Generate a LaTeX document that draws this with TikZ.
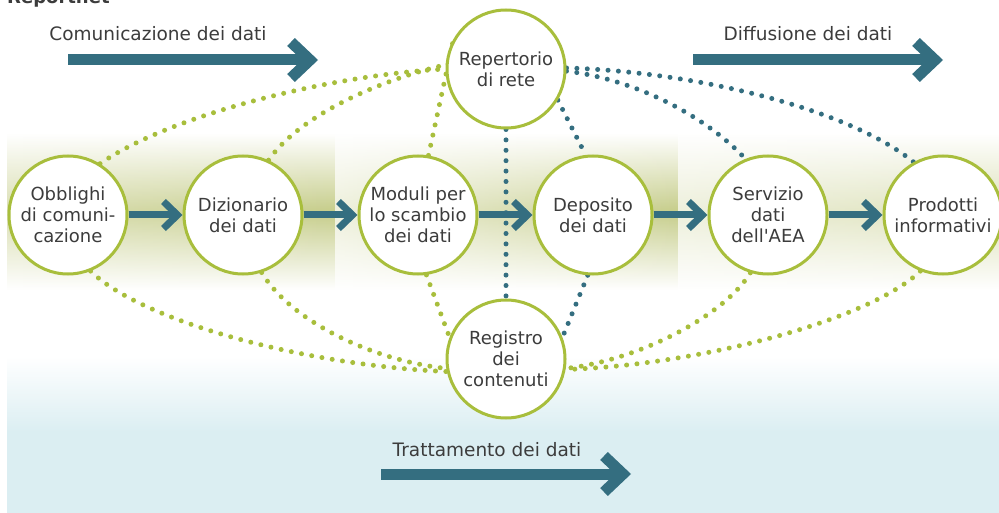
\documentclass[tikz,border=0pt]{standalone}
\usepackage{fontspec}
\setmainfont{DejaVu Sans}[Ligatures=TeXOff]
\usetikzlibrary{arrows.meta,fadings}
\definecolor{ring}{HTML}{A8BE3C}
\definecolor{petrol}{HTML}{346E80}
\definecolor{txt}{HTML}{3C3C3C}
\definecolor{olive}{HTML}{C6CD8A}
\definecolor{sky}{HTML}{DBEEF2}
\pgfdeclarelayer{bg}
\pgfdeclarelayer{mid}
\pgfsetlayers{bg,mid,main}
\begin{document}
\begin{tikzpicture}[x=1pt,y=-1pt,
  station/.style={circle,draw=ring,line width=3pt,fill=white,minimum size=118pt,inner sep=0pt,align=center,text=txt,font=\fontsize{18}{21}\selectfont},
  flow/.style={draw=petrol,line width=7pt,-{Straight Barb[length=14pt,width=27pt,sharp]}},
  gdots/.style={draw=ring,line width=5pt,line cap=round,dash pattern=on 0pt off 10.4pt},
  bdots/.style={gdots,draw=petrol},
  bigarrow/.style={draw=petrol,line width=11pt,-{Straight Barb[length=19pt,width=36pt,sharp]}},
  lbl/.style={text=txt,font=\fontsize{18.5}{22}\selectfont,anchor=base,inner sep=0pt}]
\useasboundingbox (0,0) rectangle (999,513);

\begin{pgfonlayer}{bg}
\fill[white] (0,0) rectangle (999,513);
\shade[top color=white,bottom color=white,middle color=olive] (7,133) rectangle (335,290);
\fill[white,fill opacity=0.35,path fading=east] (7,133) rectangle (335,290);
\shade[top color=white,bottom color=white,middle color=olive] (335,133) rectangle (678,290);
\fill[white,fill opacity=0.7,path fading=east] (335,133) rectangle (678,290);
\shade[top color=white,bottom color=white,middle color=olive!60] (678,133) rectangle (999,290);
\fill[white,fill opacity=0.5,path fading=east] (678,133) rectangle (999,290);
\shade[top color=white,bottom color=sky] (7,356) rectangle (999,432);
\fill[sky] (7,431.5) rectangle (999,513);
\end{pgfonlayer}

\node[anchor=base west,inner sep=0pt,font=\bfseries\fontsize{18}{20}\selectfont,text=txt] (title) at (7,4) {Reportnet};

\node[lbl] (lcom) at (158,41) {Comunicazione dei dati};
\node[lbl] (ldif) at (808,41) {Diffusione dei dati};
\node[lbl] (ltra) at (487,456) {Trattamento dei dati};

\coordinate (a1) at (68,60);  \coordinate (a2) at (318,60);
\coordinate (b1) at (693,60); \coordinate (b2) at (943,60);
\coordinate (t1) at (381,474); \coordinate (t2) at (631,474);
\draw[bigarrow] (a1) -- (a2);
\draw[bigarrow] (b1) -- (b2);
\draw[bigarrow] (t1) -- (t2);

\node[station] (obb) at (68,215) {Obblighi\\di comuni-\\cazione};
\node[station] (diz) at (243,215) {Dizionario\\dei dati};
\node[station] (mod) at (418,215) {Moduli per\\lo scambio\\dei dati};
\node[station] (dep) at (593,215) {Deposito\\dei dati};
\node[station] (ser) at (768,215) {Servizio\\dati\\dell'AEA};
\node[station] (pro) at (943,215) {Prodotti\\informativi};
\node[station] (rep) at (506,69) {Repertorio\\di rete};
\node[station] (reg) at (506,359) {Registro\\dei\\contenuti};

\begin{pgfonlayer}{mid}
\draw[gdots] (obb.58) .. controls (170,115) and (330,75) .. (rep.180);
\draw[gdots] (diz.65) .. controls (300,115) and (380,80) .. (rep.176);
\draw[gdots] (mod.80) -- (rep.150);
\draw[bdots] (rep.south) -- (reg.north);
\draw[bdots] (rep.-31) -- (dep.97);
\draw[bdots] (rep.-2) .. controls (640,80) and (710,120) .. (ser.112);
\draw[bdots] (rep.1) .. controls (700,72) and (850,110) .. (pro.119);
\draw[bdots] (dep.-95) -- (reg.21);
\draw[gdots] (mod.-82) -- (reg.159);
\draw[gdots] (obb.-68) .. controls (140,320) and (300,365) .. (reg.192);
\draw[gdots] (diz.-72) .. controls (290,320) and (370,360) .. (reg.189);
\draw[gdots] (ser.-107) .. controls (725,315) and (640,360) .. (reg.-9);
\draw[gdots] (pro.-112) .. controls (870,320) and (700,365) .. (reg.-10);
\end{pgfonlayer}

\draw[flow] (obb) -- (diz);
\draw[flow] (diz) -- (mod);
\draw[flow] (mod) -- (dep);
\draw[flow] (dep) -- (ser);
\draw[flow] (ser) -- (pro);
\end{tikzpicture}
\end{document}
